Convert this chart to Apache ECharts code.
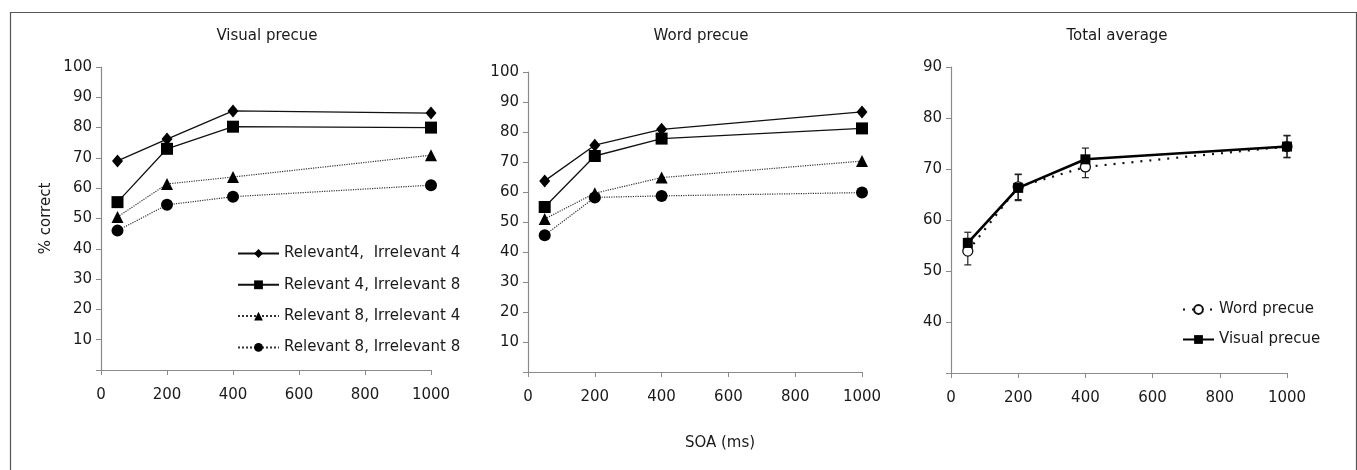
<!DOCTYPE html>
<html>
<head>
<meta charset="utf-8">
<script src="https://cdn.jsdelivr.net/npm/echarts@6/dist/echarts.min.js"></script>
<style>
  html, body { margin: 0; padding: 0; background: #fff; }
  #main { width: 1357px; height: 470px; }
</style>
</head>
<body>
<div id="main"></div>
<script>
var soa = [50, 200, 400, 1000];
var seriesNames = ['Relevant4,  Irrelevant 4', 'Relevant 4, Irrelevant 8', 'Relevant 8, Irrelevant 4', 'Relevant 8, Irrelevant 8'];

// Visual precue panel
var visualR4I4 = [69, 76.2, 85.5, 84.8];
var visualR4I8 = [55.4, 73, 80.3, 80];
var visualR8I4 = [50.5, 61.4, 63.7, 70.9];
var visualR8I8 = [46, 54.5, 57.2, 61];

// Word precue panel
var wordR4I4 = [63.7, 75.6, 80.9, 86.7];
var wordR4I8 = [55, 72, 77.8, 81.2];
var wordR8I4 = [51, 59.6, 64.8, 70.3];
var wordR8I8 = [45.6, 58.2, 58.7, 59.8];

// Total average panel
var avgWord = [53.9, 66.5, 70.4, 74.4];
var avgVisual = [55.5, 66.3, 71.9, 74.4];
var avgWordLow = [51.2, 64, 68.3, 72.2];
var avgWordHigh = [56.4, 69, 72.5, 76.5];
var avgVisualLow = [53.5, 63.8, 69.7, 72.3];
var avgVisualHigh = [57.6, 68.9, 74.1, 76.6];

var font = 'DejaVu Sans, Liberation Sans, Arial, sans-serif';
var fs = 15;
var ink = '#1a1a1a';

var myChart = echarts.init(document.getElementById('main'));

function pairs(vals) {
    return soa.map(function (x, i) { return [x, vals[i]]; });
}

function xAxisFor(idx) {
    return {
        type: 'value', gridIndex: idx, min: 0, max: 1000, interval: 200,
        axisLine: { show: true, lineStyle: { color: '#8a8a8a', width: 1.2 } },
        axisTick: { show: true, length: 5, lineStyle: { color: '#8a8a8a' } },
        axisLabel: { color: ink, fontSize: fs, fontFamily: font, margin: 18, formatter: function (v) { return String(v); } },
        splitLine: { show: false }
    };
}

function yAxisFor(idx, min, max, name) {
    return {
        type: 'value', gridIndex: idx, min: min, max: max, interval: 10,
        name: name || '', nameLocation: 'middle', nameGap: 47,
        nameTextStyle: { color: ink, fontSize: fs, fontFamily: font },
        axisLine: { show: true, lineStyle: { color: '#8a8a8a', width: 1.2 } },
        axisTick: { show: true, length: 5, lineStyle: { color: '#8a8a8a' } },
        axisLabel: {
            color: ink, fontSize: fs, fontFamily: font, margin: 9,
            formatter: function (v) { return v === min ? '' : String(v); }
        },
        splitLine: { show: false }
    };
}

var styles = [
    { symbol: 'diamond', size: [11, 13], type: 'solid' },
    { symbol: 'rect', size: 12, type: 'solid' },
    { symbol: 'triangle', size: 12, type: 'dotted' },
    { symbol: 'circle', size: 12, type: 'dotted' }
];

function panelSeries(idx, lists) {
    return lists.map(function (vals, k) {
        var st = styles[k];
        return {
            name: seriesNames[k], type: 'line', xAxisIndex: idx, yAxisIndex: idx,
            data: pairs(vals), symbol: st.symbol, symbolSize: st.size,
            itemStyle: { color: '#000' },
            lineStyle: { color: st.type === 'solid' ? '#111' : '#333', width: st.type === 'solid' ? 1.3 : 1.2, type: st.type },
            z: 3
        };
    });
}

function errorSeries(low, high) {
    return {
        type: 'custom', xAxisIndex: 2, yAxisIndex: 2,
        data: soa.map(function (x, i) { return [x, low[i], high[i]]; }),
        renderItem: function (params, api) {
            var lo = api.coord([api.value(0), api.value(1)]);
            var hi = api.coord([api.value(0), api.value(2)]);
            var w = 3.5;
            var st = { stroke: '#222', lineWidth: 1.2 };
            return {
                type: 'group', children: [
                    { type: 'line', shape: { x1: lo[0], y1: lo[1], x2: hi[0], y2: hi[1] }, style: st },
                    { type: 'line', shape: { x1: lo[0] - w, y1: lo[1], x2: lo[0] + w, y2: lo[1] }, style: st },
                    { type: 'line', shape: { x1: hi[0] - w, y1: hi[1], x2: hi[0] + w, y2: hi[1] }, style: st }
                ]
            };
        },
        silent: true, z: 2
    };
}

function titleAt(text, x, y) {
    return { text: text, left: x, top: y, textAlign: 'center', textStyle: { fontSize: fs, fontWeight: 'normal', color: ink, fontFamily: font } };
}

var option = {
    backgroundColor: '#fff',
    animation: false,
    graphic: [{
        type: 'rect', left: 8, top: 10,
        shape: { width: 1346, height: 470 },
        style: { fill: 'none', stroke: '#555', lineWidth: 1.2 }, silent: true
    }],
    title: [
        titleAt('Visual precue', 262, 24),
        titleAt('Word precue', 696, 24),
        titleAt('Total average', 1112, 24),
        titleAt('SOA (ms)', 715, 431)
    ],
    legend: [
        {
            data: seriesNames, orient: 'vertical', left: 237, top: 246, padding: 0,
            itemWidth: 41, itemHeight: 11, itemGap: 16.3,
            textStyle: { fontSize: fs, color: ink, fontFamily: font },
            selectedMode: false
        },
        {
            data: ['Word precue', 'Visual precue'], orient: 'vertical', left: 1182, top: 302, padding: 0,
            itemWidth: 31, itemHeight: 11, itemGap: 15,
            textStyle: { fontSize: fs, color: ink, fontFamily: font },
            selectedMode: false
        }
    ],
    grid: [
        { left: 101, top: 67, width: 330, height: 303 },
        { left: 528, top: 72, width: 334, height: 300 },
        { left: 951, top: 67, width: 336, height: 306 }
    ],
    xAxis: [xAxisFor(0), xAxisFor(1), xAxisFor(2)],
    yAxis: [yAxisFor(0, 0, 100, '% correct'), yAxisFor(1, 0, 100), yAxisFor(2, 30, 90)],
    series: []
        .concat(panelSeries(0, [visualR4I4, visualR4I8, visualR8I4, visualR8I8]))
        .concat(panelSeries(1, [wordR4I4, wordR4I8, wordR8I4, wordR8I8]))
        .concat([
            errorSeries(avgWordLow, avgWordHigh),
            errorSeries(avgVisualLow, avgVisualHigh),
            {
                name: 'Word precue', type: 'line', xAxisIndex: 2, yAxisIndex: 2,
                data: pairs(avgWord), symbol: 'circle', symbolSize: 10,
                itemStyle: { color: '#fff', borderColor: '#111', borderWidth: 1.3 },
                lineStyle: { color: '#111', width: 2.2, type: [2, 7] },
                z: 3
            },
            {
                name: 'Visual precue', type: 'line', xAxisIndex: 2, yAxisIndex: 2,
                data: pairs(avgVisual), symbol: 'rect', symbolSize: 10,
                itemStyle: { color: '#000' },
                lineStyle: { color: '#000', width: 2.6 },
                z: 4
            }
        ])
};

myChart.setOption(option);
</script>
</body>
</html>
